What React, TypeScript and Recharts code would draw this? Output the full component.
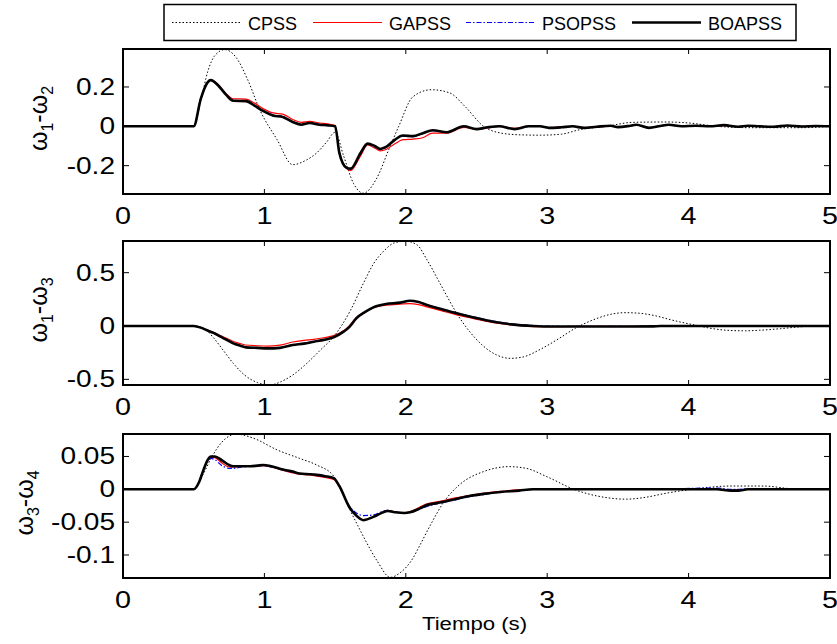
import React from "react";
import { LineChart, Line, XAxis, YAxis } from "recharts";

const FONT = "'Liberation Sans', Arial, Helvetica, sans-serif";
const PLOT_LEFT = 123;
const PLOT_RIGHT = 830;
const TOP_PAD = 10;

const timeTicks = [0, 1, 2, 3, 4, 5];

// ---- panel 1: w1 - w2 ----
const p1T = [0, 0.5, 0.55, 0.6, 0.62, 0.67, 0.73, 0.78, 0.87, 0.93, 0.99, 1.06, 1.13, 1.2, 1.26, 1.32, 1.39, 1.45, 1.5, 1.53, 1.58, 1.61, 1.68, 1.73, 1.78, 1.82, 1.86, 1.92, 1.98, 2.05, 2.12, 2.19, 2.29, 2.41, 2.5, 2.58, 2.66, 2.77, 2.87, 2.95, 3.01, 3.1, 3.18, 3.26, 3.35, 3.45, 3.5, 3.58, 3.63, 3.72, 3.8, 3.86, 3.95, 4.05, 4.15, 4.25, 4.35, 4.42, 4.5, 4.6, 4.7, 4.8, 4.9, 5];
const p1GA = [0, 0, 0.14, 0.228, 0.238, 0.215, 0.165, 0.14, 0.138, 0.118, 0.09, 0.068, 0.062, 0.035, 0.02, 0.025, 0.017, 0.012, 0.004, -0.13, -0.215, -0.225, -0.15, -0.095, -0.11, -0.125, -0.118, -0.09, -0.068, -0.065, -0.058, -0.035, -0.035, -0.005, -0.014, -0.008, 0, -0.01, 0, 0, -0.006, -0.004, 0, -0.006, -0.004, 0.002, -0.002, 0.002, 0.006, -0.006, 0.002, 0.006, 0, 0.002, 0, 0.004, -0.002, 0.002, 0, -0.002, 0.003, 0, 0.001, 0];
const p1PSO = [0, 0, 0.14, 0.226, 0.236, 0.21, 0.162, 0.132, 0.13, 0.107, 0.08, 0.058, 0.05, 0.024, 0.01, 0.018, 0.009, 0.005, 0.001, -0.133, -0.212, -0.218, -0.14, -0.09, -0.102, -0.117, -0.107, -0.072, -0.05, -0.052, -0.037, -0.022, -0.03, 0, -0.013, -0.005, 0, -0.013, 0, 0, -0.007, -0.005, 0, -0.007, -0.002, 0.003, -0.004, 0.002, 0.007, -0.007, 0.002, 0.007, 0, 0.003, 0, 0.005, -0.002, 0.003, 0, -0.002, 0.004, -0.001, 0.002, 0];
const p1BOA = [0, 0, 0.14, 0.225, 0.235, 0.21, 0.16, 0.13, 0.128, 0.105, 0.078, 0.055, 0.047, 0.022, 0.008, 0.017, 0.008, 0.005, 0, -0.135, -0.21, -0.215, -0.135, -0.088, -0.1, -0.115, -0.105, -0.07, -0.047, -0.05, -0.035, -0.02, -0.03, 0, -0.014, -0.005, 0, -0.014, 0, 0, -0.008, -0.005, 0, -0.008, -0.002, 0.003, -0.004, 0.002, 0.008, -0.008, 0.002, 0.008, 0, 0.003, 0, 0.006, -0.002, 0.003, 0, -0.002, 0.004, -0.001, 0.002, 0];
const p1CpssT = [0, 0.5, 0.55, 0.6, 0.65, 0.72, 0.8, 0.88, 0.97, 1.09, 1.2, 1.3, 1.37, 1.44, 1.5, 1.56, 1.63, 1.7, 1.79, 1.88, 1.95, 2.05, 2.18, 2.31, 2.42, 2.55, 2.67, 2.8, 2.95, 3.1, 3.23, 3.42, 3.6, 3.84, 4.0, 4.2, 4.44, 4.8, 5];
const p1Cpss = [0, 0, 0.13, 0.28, 0.36, 0.39, 0.35, 0.24, 0.08, -0.068, -0.195, -0.17, -0.135, -0.08, -0.03, -0.15, -0.29, -0.34, -0.27, -0.118, 0, 0.15, 0.186, 0.17, 0.1, 0, -0.034, -0.043, -0.045, -0.04, -0.017, 0, 0.02, 0.022, 0.017, 0, -0.007, -0.007, 0];
const p1Ticks = [-0.2, 0, 0.2];

// ---- panel 2: w1 - w3 ----
const p2T = [0, 0.5, 0.55, 0.59, 0.64, 0.69, 0.74, 0.78, 0.83, 0.87, 0.95, 1.02, 1.11, 1.2, 1.28, 1.35, 1.42, 1.49, 1.56, 1.6, 1.65, 1.71, 1.77, 1.86, 1.96, 2.03, 2.09, 2.15, 2.25, 2.36, 2.48, 2.62, 2.75, 2.9, 3.05, 3.2, 3.4, 3.6, 3.75, 3.8, 4.0, 4.5, 5];
const p2GA = [0, 0, -0.015, -0.036, -0.06, -0.09, -0.12, -0.145, -0.165, -0.178, -0.185, -0.188, -0.18, -0.15, -0.135, -0.125, -0.11, -0.09, -0.045, 0, 0.08, 0.13, 0.17, 0.195, 0.205, 0.21, 0.2, 0.18, 0.145, 0.105, 0.07, 0.032, 0.01, -0.005, -0.006, -0.004, -0.004, -0.004, -0.002, 0, 0, 0, 0];
const p2PSO = [0, 0, -0.015, -0.037, -0.064, -0.098, -0.132, -0.16, -0.182, -0.197, -0.203, -0.207, -0.202, -0.175, -0.162, -0.145, -0.128, -0.104, -0.05, -0.008, 0.073, 0.13, 0.174, 0.204, 0.217, 0.234, 0.224, 0.198, 0.162, 0.122, 0.085, 0.045, 0.02, 0.005, -0.002, -0.002, -0.002, -0.002, -0.001, 0, 0, 0, 0];
const p2BOA = [0, 0, -0.015, -0.038, -0.065, -0.1, -0.135, -0.163, -0.185, -0.2, -0.205, -0.21, -0.205, -0.178, -0.165, -0.147, -0.13, -0.106, -0.053, -0.01, 0.072, 0.13, 0.175, 0.206, 0.219, 0.237, 0.225, 0.197, 0.16, 0.119, 0.08, 0.04, 0.015, 0, -0.005, -0.004, -0.004, -0.004, -0.003, 0, 0, 0, 0];
const p2CpssT = [0, 0.5, 0.58, 0.64, 0.71, 0.78, 0.86, 0.95, 1.04, 1.12, 1.2, 1.3, 1.4, 1.49, 1.61, 1.7, 1.77, 1.85, 1.92, 2.0, 2.08, 2.15, 2.25, 2.36, 2.45, 2.54, 2.64, 2.74, 2.83, 2.95, 3.08, 3.2, 3.35, 3.45, 3.55, 3.65, 3.75, 3.9, 4.04, 4.15, 4.27, 4.4, 4.5, 4.65, 4.77, 4.9, 5];
const p2Cpss = [0, 0, -0.03, -0.11, -0.23, -0.35, -0.46, -0.53, -0.553, -0.52, -0.46, -0.35, -0.22, -0.1, 0.15, 0.4, 0.58, 0.71, 0.78, 0.795, 0.76, 0.62, 0.38, 0.119, -0.05, -0.178, -0.27, -0.303, -0.29, -0.22, -0.12, -0.02, 0.07, 0.11, 0.125, 0.12, 0.1, 0.05, 0.01, -0.02, -0.04, -0.045, -0.04, -0.025, -0.01, 0, 0];
const p2Ticks = [-0.5, 0, 0.5];

// ---- panel 3: w3 - w4 ----
const p3T = [0, 0.5, 0.54, 0.57, 0.6, 0.62, 0.65, 0.7, 0.75, 0.78, 0.84, 0.9, 0.95, 0.99, 1.05, 1.13, 1.2, 1.25, 1.32, 1.37, 1.43, 1.49, 1.53, 1.6, 1.65, 1.7, 1.77, 1.82, 1.87, 1.93, 1.99, 2.03, 2.1, 2.15, 2.22, 2.27, 2.35, 2.43, 2.55, 2.67, 2.8, 2.9, 3.1, 3.5, 3.9, 4.2, 4.3, 4.35, 4.42, 4.6, 5];
const p3GA = [0, 0, 0.012, 0.03, 0.045, 0.049, 0.048, 0.04, 0.034, 0.034, 0.035, 0.035, 0.036, 0.036, 0.034, 0.029, 0.025, 0.023, 0.022, 0.02, 0.018, 0.015, 0.004, -0.027, -0.04, -0.046, -0.042, -0.036, -0.032, -0.035, -0.036, -0.034, -0.027, -0.022, -0.019, -0.017, -0.013, -0.01, -0.006, -0.003, -0.001, 0, 0, 0, 0, 0, -0.001, -0.001, 0, 0, 0];
const p3PSO = [0, 0, 0.012, 0.03, 0.044, 0.047, 0.045, 0.036, 0.032, 0.032, 0.034, 0.035, 0.036, 0.036, 0.034, 0.03, 0.026, 0.024, 0.023, 0.021, 0.02, 0.017, 0.005, -0.025, -0.036, -0.04, -0.039, -0.035, -0.032, -0.035, -0.036, -0.035, -0.03, -0.026, -0.022, -0.02, -0.016, -0.012, -0.008, -0.004, -0.002, 0, 0, 0.001, 0.001, 0.002, 0, 0, 0.001, 0, 0];
const p3BOA = [0, 0, 0.012, 0.03, 0.045, 0.05, 0.05, 0.044, 0.037, 0.035, 0.035, 0.035, 0.036, 0.037, 0.035, 0.03, 0.027, 0.024, 0.023, 0.022, 0.02, 0.017, 0.005, -0.027, -0.04, -0.047, -0.042, -0.037, -0.033, -0.035, -0.036, -0.035, -0.029, -0.024, -0.021, -0.019, -0.015, -0.011, -0.007, -0.004, -0.002, 0, 0, 0, 0, 0, -0.002, -0.002, 0, 0, 0];
const p3CpssT = [0, 0.5, 0.56, 0.63, 0.7, 0.8, 0.92, 1.09, 1.25, 1.37, 1.49, 1.55, 1.6, 1.66, 1.72, 1.8, 1.89, 1.96, 2.05, 2.1, 2.18, 2.27, 2.38, 2.55, 2.73, 2.85, 3.0, 3.2, 3.35, 3.56, 3.7, 3.84, 4.06, 4.3, 4.53, 4.72, 4.85, 5];
const p3Cpss = [0, 0, 0.02, 0.05, 0.072, 0.084, 0.078, 0.06, 0.047, 0.037, 0.02, -0.005, -0.029, -0.055, -0.08, -0.11, -0.134, -0.127, -0.105, -0.085, -0.052, -0.019, 0.007, 0.027, 0.0345, 0.032, 0.019, -0.001, -0.01, -0.015, -0.012, -0.006, 0.001, 0.005, 0.005, 0.001, 0, 0];
const p3Ticks = [-0.1, -0.05, 0, 0.05];

const legendNames = ["CPSS", "GAPSS", "PSOPSS", "BOAPSS"];

const rows = (t: number[], ga: number[], pso: number[], boa: number[]) =>
  t.map((x, i) => ({ t: x, ga: ga[i], pso: pso[i], boa: boa[i] }));
const pairs = (t: number[], v: number[]) => t.map((x, i) => ({ t: x, v: v[i] }));

const panels = [
  { top: 49, plotH: 145, axisH: 40, domain: [-0.344, 0.393], ticks: p1Ticks, a: "1", b: "2", labX: 47, rows: rows(p1T, p1GA, p1PSO, p1BOA), cpss: pairs(p1CpssT, p1Cpss) },
  { top: 241, plotH: 144, axisH: 40, domain: [-0.553, 0.797], ticks: p2Ticks, a: "1", b: "3", labX: 47, rows: rows(p2T, p2GA, p2PSO, p2BOA), cpss: pairs(p2CpssT, p2Cpss) },
  { top: 434, plotH: 144, axisH: 66, domain: [-0.135, 0.0842], ticks: p3Ticks, a: "3", b: "4", labX: 33, rows: rows(p3T, p3GA, p3PSO, p3BOA), cpss: pairs(p3CpssT, p3Cpss), xlabel: "Tiempo (s)" },
];

function XTick(props: any) {
  const { x, payload, plotH } = props;
  const bottom = TOP_PAD + plotH;
  return (
    <g>
      <line x1={x} x2={x} y1={bottom} y2={bottom - 5} stroke="#000" strokeWidth={1} />
      <line x1={x} x2={x} y1={TOP_PAD} y2={TOP_PAD + 5} stroke="#000" strokeWidth={1} />
      <text transform={`translate(${x},${bottom + 30}) scale(1.25,1)`} textAnchor="middle" fontSize={23} fontFamily={FONT} fill="#000">
        {payload.value}
      </text>
    </g>
  );
}

function YTick(props: any) {
  const { y, payload } = props;
  return (
    <g>
      <line x1={PLOT_LEFT} x2={PLOT_LEFT + 6} y1={y} y2={y} stroke="#000" strokeWidth={1} />
      <line x1={PLOT_RIGHT} x2={PLOT_RIGHT - 6} y1={y} y2={y} stroke="#000" strokeWidth={1} />
      <text transform={`translate(${PLOT_LEFT - 8},${y + 8}) scale(1.22,1)`} textAnchor="end" fontSize={23} fontFamily={FONT} fill="#000">
        {String(payload.value)}
      </text>
    </g>
  );
}

function YLab({ subA, subB, posX, posY }: any) {
  return (
    <text transform={`translate(${posX},${posY}) rotate(-90)`} textAnchor="middle" fontSize={25} fontFamily={FONT} fill="#000">
      ω<tspan fontSize={16} dy={6}>{subA}</tspan>
      <tspan dy={-6}>-ω</tspan>
      <tspan fontSize={16} dy={6}>{subB}</tspan>
    </text>
  );
}

function XLab({ caption, posY }: any) {
  return (
    <text transform={`translate(${(PLOT_LEFT + PLOT_RIGHT) / 2 - 2},${posY}) scale(1.2,1)`} textAnchor="middle" fontSize={18.5} fontFamily={FONT} fill="#000">
      {caption}
    </text>
  );
}

function Panel({ p }: any) {
  const h = TOP_PAD + p.plotH + p.axisH;
  return (
    <div style={{ position: "absolute", left: 0, top: p.top - TOP_PAD, width: 837, height: h }}>
      <LineChart width={837} height={h} data={p.rows} margin={{ top: TOP_PAD, right: 837 - PLOT_RIGHT, left: PLOT_LEFT - 60, bottom: 0 }}>
        <XAxis
          dataKey="t"
          type="number"
          domain={[0, 5]}
          ticks={timeTicks}
          height={p.axisH}
          axisLine={false}
          tickLine={false}
          allowDataOverflow
          tick={<XTick plotH={p.plotH} />}
          label={p.xlabel ? <XLab caption={p.xlabel} posY={TOP_PAD + p.plotH + 52} /> : undefined}
        />
        <YAxis
          type="number"
          domain={p.domain}
          ticks={p.ticks}
          width={60}
          axisLine={false}
          tickLine={false}
          allowDataOverflow
          tick={<YTick />}
          label={<YLab subA={p.a} subB={p.b} posX={p.labX} posY={TOP_PAD + p.plotH / 2 - 3} />}
        />
        <Line data={p.cpss} dataKey="v" type="monotone" stroke="#000" strokeWidth={1} strokeDasharray="1.5 2" dot={false} isAnimationActive={false} />
        <Line dataKey="ga" type="monotone" stroke="#ff0000" strokeWidth={1.2} dot={false} isAnimationActive={false} />
        <Line dataKey="pso" type="monotone" stroke="#0000ff" strokeWidth={1.2} strokeDasharray="5 2 1.5 2" dot={false} isAnimationActive={false} />
        <Line dataKey="boa" type="monotone" stroke="#000" strokeWidth={2.6} dot={false} isAnimationActive={false} />
      </LineChart>
      {/* axes box */}
      <div
        style={{
          position: "absolute",
          left: PLOT_LEFT - 1,
          top: TOP_PAD - 1,
          width: PLOT_RIGHT - PLOT_LEFT + 2,
          height: p.plotH + 2,
          border: "2px solid #000",
          boxSizing: "border-box",
          pointerEvents: "none",
        }}
      />
    </div>
  );
}

function LegendBox() {
  const lines = [
    { x: 172, stroke: "#000", w: 1, dash: "1.5 2" },
    { x: 313, stroke: "#ff0000", w: 1.2, dash: undefined },
    { x: 466, stroke: "#0000ff", w: 1.2, dash: "5 2 1.5 2" },
    { x: 632, stroke: "#000", w: 2.6, dash: undefined },
  ];
  return (
    <svg width={837} height={46} style={{ position: "absolute", left: 0, top: 0 }}>
      <rect x={164} y={4.5} width={632} height={36} fill="#fff" stroke="#000" strokeWidth={1.5} />
      {legendNames.map((name, i) => (
        <g key={name}>
          <line x1={lines[i].x} x2={lines[i].x + 69} y1={22.5} y2={22.5} stroke={lines[i].stroke} strokeWidth={lines[i].w} strokeDasharray={lines[i].dash} />
          <text x={lines[i].x + 76} y={29.5} fontSize={18} fontFamily={FONT} fill="#000">
            {name}
          </text>
        </g>
      ))}
    </svg>
  );
}

export default function App() {
  return (
    <div style={{ position: "absolute", left: 0, top: 0, width: 837, height: 644, background: "#fff", overflow: "hidden" }}>
      {panels.map((p, i) => (
        <Panel key={i} p={p} />
      ))}
      <LegendBox />
    </div>
  );
}
